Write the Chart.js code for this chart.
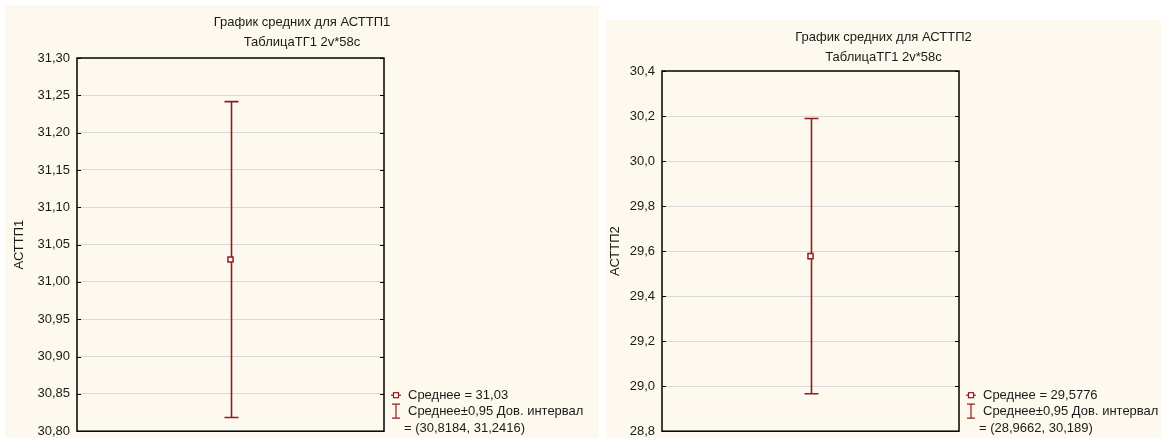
<!DOCTYPE html>
<html>
<head>
<meta charset="utf-8">
<script src="https://cdn.jsdelivr.net/npm/chart.js@4.4.1/dist/chart.umd.min.js"></script>
<style>
  body { margin: 0; background: #ffffff; }
  .panel { position: absolute; background: #fdf9ef; overflow: hidden; }
  #p1 { left: 5px; top: 5px; width: 594px; height: 433px; }
  #p2 { left: 606px; top: 20px; width: 555px; height: 418px; }
  canvas { display: block; }
</style>
</head>
<body>
<!-- canvases run a few px past the panel bottom: the y ticks reserve room under the last label -->
<div class="panel" id="p1"><canvas id="chart1" width="594" height="441"></canvas></div>
<div class="panel" id="p2"><canvas id="chart2" width="555" height="426"></canvas></div>

<script>
// variables and their means with 0.95 confidence limits
const varNames = ['АСТТП1', 'АСТТП2']
const means = [31.03, 29.5776]
const ciLow = [30.8184, 28.9662]
const ciHigh = [31.2416, 30.189]

// y axis ranges
const yMin = [30.8, 28.8]
const yMax = [31.3, 30.4]
const yStep = [0.05, 0.2]
const yDecimals = [2, 1]

const subTitle = 'ТаблицаТГ1 2v*58c'
const meanLabel = 'Среднее'
const ciLabel = 'Среднее±0,95 Дов. интервал'

const RED = '#951b1b'
const FONT = "'Liberation Sans', Arial, sans-serif"

function comma(v) {
    return String(v).replace('.', ',')
}

// plot frame, inner tick marks, error bar and the legend on the right
const meanPlotDecor = {
    id: 'meanPlotDecor',
    beforeDatasetsDraw(chart, args, opts) {
        const { ctx, scales: { x, y } } = chart
        ctx.save()
        // error bar
        const px = Math.round(x.getPixelForValue(1)) + 0.5
        const top = y.getPixelForValue(opts.high)
        const bot = y.getPixelForValue(opts.low)
        ctx.strokeStyle = RED
        ctx.lineWidth = 1.6
        ctx.beginPath()
        ctx.moveTo(px, top); ctx.lineTo(px, bot)
        ctx.moveTo(px - 7, top); ctx.lineTo(px + 7, top)
        ctx.moveTo(px - 7, bot); ctx.lineTo(px + 7, bot)
        ctx.stroke()
        ctx.restore()
    },
    afterDraw(chart, args, opts) {
        const { ctx, chartArea: a, scales: { y } } = chart
        ctx.save()
        // small ticks inside the frame
        ctx.strokeStyle = '#000'
        ctx.lineWidth = 1
        y.ticks.forEach(t => {
            const py = Math.round(y.getPixelForValue(t.value)) + 0.5
            ctx.beginPath()
            ctx.moveTo(a.left, py); ctx.lineTo(a.left + 4, py)
            ctx.moveTo(a.right - 4, py); ctx.lineTo(a.right, py)
            ctx.stroke()
        })
        // frame
        ctx.lineWidth = 1.5
        ctx.strokeRect(a.left, a.top, a.right - a.left, a.bottom - a.top)

        // legend
        const lx = a.right + 12
        const y1 = a.bottom - 36
        const y2 = a.bottom - 20
        const y3 = a.bottom - 3
        ctx.strokeStyle = RED
        ctx.lineWidth = 1.2
        ctx.beginPath()
        ctx.moveTo(lx - 5, y1); ctx.lineTo(lx + 5, y1)
        ctx.stroke()
        ctx.fillStyle = '#fff'
        ctx.fillRect(lx - 2.5, y1 - 2.5, 5, 5)
        ctx.strokeRect(lx - 2.5, y1 - 2.5, 5, 5)
        ctx.beginPath()
        ctx.moveTo(lx, y2 - 7); ctx.lineTo(lx, y2 + 7)
        ctx.moveTo(lx - 4, y2 - 7); ctx.lineTo(lx + 4, y2 - 7)
        ctx.moveTo(lx - 4, y2 + 7); ctx.lineTo(lx + 4, y2 + 7)
        ctx.stroke()

        ctx.fillStyle = '#1a1a1a'
        ctx.font = '13px ' + FONT
        ctx.textBaseline = 'middle'
        ctx.textAlign = 'left'
        ctx.fillText(meanLabel + ' = ' + comma(opts.mean), a.right + 24, y1)
        ctx.fillText(ciLabel, a.right + 24, y2)
        ctx.fillText('= (' + comma(opts.low) + ', ' + comma(opts.high) + ')', a.right + 20, y3)
        ctx.restore()
    }
}

function makeChart(i, canvasId, axisWidth, rightWidth, titlePad, axisTitlePad) {
    const ticksCount = Math.round((yMax[i] - yMin[i]) / yStep[i])
    return new Chart(document.getElementById(canvasId), {
        type: 'scatter',
        data: {
            datasets: [{
                data: [{ x: 1, y: means[i] }],
                pointStyle: 'rect',
                pointRadius: 3.6,
                pointBorderWidth: 1.5,
                pointBorderColor: RED,
                pointBackgroundColor: '#fff'
            }]
        },
        options: {
            responsive: false,
            animation: false,
            layout: { padding: 0 },
            scales: {
                x: { type: 'linear', min: 0, max: 2, display: false },
                y: {
                    min: yMin[i],
                    max: yMax[i],
                    afterFit: scale => { scale.width = axisWidth },
                    border: { display: false },
                    grid: {
                        drawTicks: false,
                        lineWidth: 1,
                        color: ctx => (ctx.index === 0 || ctx.index === ticksCount) ? 'rgba(0,0,0,0)' : '#d9d9d9'
                    },
                    ticks: {
                        stepSize: yStep[i],
                        padding: 7,
                        color: '#1a1a1a',
                        font: { family: FONT, size: 13 },
                        callback: v => Number(v).toFixed(yDecimals[i]).replace('.', ',')
                    },
                    title: {
                        display: true,
                        text: varNames[i],
                        color: '#1a1a1a',
                        padding: { top: axisTitlePad, bottom: 0 },
                        font: { family: FONT, size: 13 }
                    }
                },
                // empty axis on the right keeps room for the legend text
                legendSpace: {
                    position: 'right',
                    min: yMin[i],
                    max: yMax[i],
                    afterFit: scale => { scale.width = rightWidth },
                    border: { display: false },
                    grid: { display: false, drawTicks: false },
                    ticks: { display: false }
                }
            },
            plugins: {
                legend: { display: false },
                tooltip: { enabled: false },
                title: {
                    display: true,
                    text: ['График средних для ' + varNames[i], subTitle],
                    color: '#1a1a1a',
                    padding: { top: 7, bottom: titlePad },
                    font: { family: FONT, size: 13, weight: 'normal', lineHeight: '20px' }
                },
                meanPlotDecor: { mean: means[i], low: ciLow[i], high: ciHigh[i] }
            }
        },
        plugins: [meanPlotDecor]
    })
}

var chart1 = makeChart(0, 'chart1', 72, 215, 6, 7)
var chart2 = makeChart(1, 'chart2', 56, 202, 4, 2)
</script>
</body>
</html>
